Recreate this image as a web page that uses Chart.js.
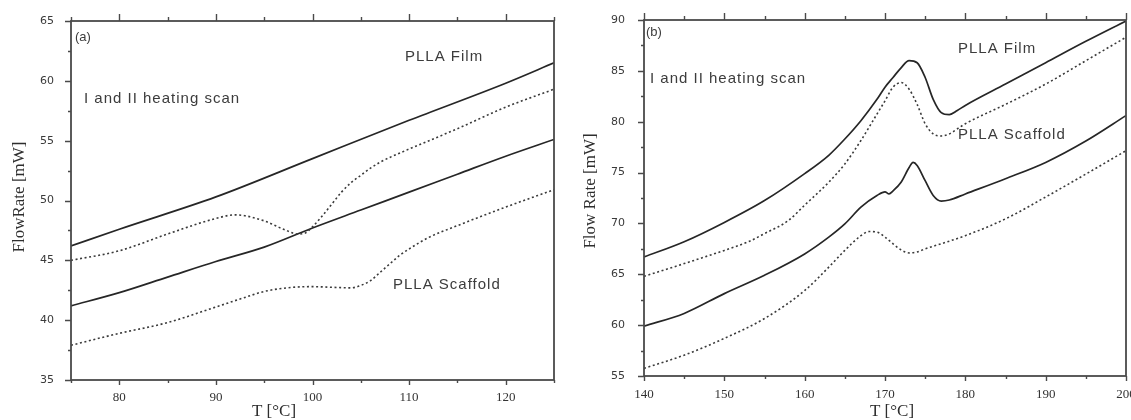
<!DOCTYPE html>
<html>
<head>
<meta charset="utf-8">
<script src="https://cdn.jsdelivr.net/npm/chart.js@4.4.1/dist/chart.umd.min.js"></script>
<style>
  html, body { margin: 0; padding: 0; background: #fff; }
  body { width: 1131px; height: 420px; position: relative; overflow: hidden; }
  canvas { position: absolute; top: 0; }
  #chartA { left: 0; }
  #chartB { left: 565px; }
</style>
</head>
<body>
<canvas id="chartA" width="565" height="420"></canvas>
<canvas id="chartB" width="566" height="420"></canvas>
<script>
// ---- panel (a): I and II heating scan, 75-125 °C ----
const filmSolidT_a = [75, 80, 90, 100, 110, 120, 125];
const filmSolid_a  = [46.2, 47.6, 50.3, 53.5, 56.7, 59.8, 61.5];

const filmDotT_a = [75, 80, 85, 90, 92, 95, 97, 98.5, 99.3, 100, 101, 102, 103, 104, 105, 106, 107, 108, 110, 115, 120, 125];
const filmDot_a  = [45.0, 45.8, 47.2, 48.5, 48.8, 48.3, 47.6, 47.2, 47.3, 47.8, 48.7, 49.7, 50.7, 51.5, 52.1, 52.7, 53.2, 53.6, 54.3, 56.0, 57.8, 59.3];

const scafSolidT_a = [75, 80, 85, 90, 95, 100, 105, 110, 115, 120, 125];
const scafSolid_a  = [41.2, 42.3, 43.6, 44.9, 46.1, 47.7, 49.2, 50.7, 52.2, 53.7, 55.1];

const scafDotT_a = [75, 80, 85, 90, 93, 95, 98, 100, 102, 104, 105, 106, 107, 108, 109, 110, 112, 115, 120, 125];
const scafDot_a  = [37.9, 38.9, 39.8, 41.1, 41.9, 42.4, 42.75, 42.8, 42.75, 42.7, 42.9, 43.3, 44.0, 44.7, 45.4, 45.95, 46.9, 47.9, 49.45, 50.9];

// ---- panel (b): 140-200 °C ----
const filmSolidT_b = [140, 145, 150, 155, 160, 163, 165, 167, 169, 170, 171, 172, 173, 174, 175, 176, 177, 178, 179, 180, 185, 190, 195, 200];
const filmSolid_b  = [66.7, 68.2, 70.1, 72.25, 74.9, 76.7, 78.3, 80.1, 82.2, 83.4, 84.35, 85.3, 86.0, 85.8, 84.35, 82.2, 80.9, 80.7, 81.1, 81.6, 83.7, 85.8, 87.9, 89.9];

const filmDotT_b = [140, 145, 150, 153, 155, 158, 160, 163, 165, 167, 169, 170, 171, 172, 173, 174, 175, 176, 177, 178, 179, 180, 185, 190, 195, 200];
const filmDot_b  = [64.8, 66.05, 67.35, 68.2, 69.0, 70.3, 71.8, 74.05, 75.85, 78.15, 80.75, 82.05, 83.4, 83.85, 83.2, 81.7, 79.8, 78.8, 78.6, 78.8, 79.3, 79.8, 81.7, 83.7, 86.0, 88.3];

const scafSolidT_b = [140, 145, 150, 155, 160, 163, 165, 167, 169, 170, 170.5, 171, 172, 173, 173.5, 174, 175, 176, 177, 178, 180, 185, 190, 195, 200];
const scafSolid_b  = [59.9, 61.15, 63.1, 64.9, 67.0, 68.65, 69.95, 71.6, 72.75, 73.1, 72.9, 73.2, 74.05, 75.5, 76.0, 75.7, 74.2, 72.75, 72.2, 72.3, 72.9, 74.4, 76.0, 78.1, 80.6];

const scafDotT_b = [140, 145, 150, 155, 160, 163, 165, 167, 168, 169, 170, 171, 172, 173, 174, 175, 177, 180, 185, 190, 195, 200];
const scafDot_b  = [55.75, 57.05, 58.7, 60.65, 63.4, 65.7, 67.35, 68.8, 69.2, 69.15, 68.65, 68.0, 67.4, 67.1, 67.2, 67.5, 68.0, 68.8, 70.45, 72.6, 74.85, 77.15];

const xTicks_a = [80, 90, 100, 110, 120];
const yTicks_a = [35, 40, 45, 50, 55, 60, 65];
const xTicks_b = [140, 150, 160, 170, 180, 190, 200];
const yTicks_b = [55, 60, 65, 70, 75, 80, 85, 90];

function pts(t, v) {
  return t.map((x, i) => ({ x: x, y: v[i] }));
}

function solid(t, v) {
  return { data: pts(t, v), borderColor: '#262626', borderWidth: 1.7, pointRadius: 0,
           cubicInterpolationMode: 'monotone', fill: false };
}

function dotted(t, v) {
  return { data: pts(t, v), borderColor: '#3a3a3a', borderWidth: 1.6, borderDash: [2, 2.6],
           pointRadius: 0, cubicInterpolationMode: 'monotone', fill: false };
}

// frame, minor ticks, mirrored top ticks, titles and notes
const decor = {
  id: 'decor',
  afterDraw(chart) {
    const o = chart.options.plugins.decor;
    const { ctx, chartArea: a } = chart;
    const sx = chart.scales.x, sy = chart.scales.y;
    ctx.save();
    ctx.strokeStyle = '#4a4a4a';
    ctx.lineWidth = 1.8;
    ctx.strokeRect(a.left, a.top, a.right - a.left, a.bottom - a.top);

    ctx.lineWidth = 1.4;
    ctx.beginPath();
    for (let v = sx.min; v <= sx.max + 1e-6; v += 5) {
      const px = Math.round(sx.getPixelForValue(v)) + 0.5;
      const major = v % 10 === 0;
      ctx.moveTo(px, a.bottom); ctx.lineTo(px, a.bottom + (major ? 5 : 3));
      ctx.moveTo(px, a.top); ctx.lineTo(px, a.top - (major ? 7 : 4));
    }
    for (let v = sy.min; v <= sy.max + 1e-6; v += 2.5) {
      const py = Math.round(sy.getPixelForValue(v)) + 0.5;
      const major = v % 5 === 0;
      ctx.moveTo(a.left, py); ctx.lineTo(a.left - (major ? 6 : 3), py);
    }
    ctx.stroke();

    ctx.fillStyle = '#2e2e2e';
    ctx.textAlign = 'center';
    ctx.textBaseline = 'middle';
    ctx.font = '17px "Liberation Serif"';
    ctx.fillText('T [°C]', o.xTitle[0], o.xTitle[1]);
    ctx.save();
    ctx.translate(o.yTitle[0], o.yTitle[1]);
    ctx.rotate(-Math.PI / 2);
    ctx.fillText(o.yText, 0, 0);
    ctx.restore();

    ctx.fillStyle = '#3c3c3c';
    ctx.textAlign = 'left';
    ctx.font = '13px "Liberation Sans"';
    ctx.fillText(o.tag[2], o.tag[0], o.tag[1]);
    ctx.font = '15px "Liberation Sans"';
    ctx.letterSpacing = '1px';
    o.notes.forEach(n => ctx.fillText(n[2], n[0], n[1]));
    ctx.restore();
  }
};

function makeChart(id, sets, xr, yr, xt, yt, pad, xH, yW, xPad, yPad, deco) {
  return new Chart(document.getElementById(id), {
    type: 'line',
    data: { datasets: sets },
    plugins: [decor],
    options: {
      responsive: false,
      animation: false,
      layout: { padding: pad },
      plugins: { legend: { display: false }, tooltip: { enabled: false }, decor: deco },
      scales: {
        x: {
          type: 'linear', min: xr[0], max: xr[1],
          afterBuildTicks: s => { s.ticks = xt.map(v => ({ value: v })); },
          ticks: { padding: xPad, maxRotation: 0, autoSkip: false, color: '#333',
                   font: { family: 'Liberation Serif', size: 13 } },
          grid: { display: false }, border: { display: false },
          afterFit: s => { s.height = xH; s.paddingLeft = 0; s.paddingRight = 0; }
        },
        y: {
          min: yr[0], max: yr[1],
          afterBuildTicks: s => { s.ticks = yt.map(v => ({ value: v })); },
          ticks: { padding: yPad, color: '#3a3a3a', font: { family: 'DejaVu Sans', size: 11 } },
          grid: { display: false }, border: { display: false },
          afterFit: s => { s.width = yW; s.paddingTop = 0; s.paddingBottom = 0; }
        }
      }
    }
  });
}

makeChart('chartA',
  [solid(filmSolidT_a, filmSolid_a), dotted(filmDotT_a, filmDot_a),
   solid(scafSolidT_a, scafSolid_a), dotted(scafDotT_a, scafDot_a)],
  [75, 125], [35, 65], xTicks_a, yTicks_a,
  { left: 0, right: 11, top: 21, bottom: 0 }, 40, 71, 2, 9,
  { xTitle: [274, 412], yTitle: [20, 197], yText: 'FlowRate [mW]', tag: [75, 37, '(a)'],
    notes: [[405, 57, 'PLLA Film'], [84, 99, 'I and II heating scan'], [393, 285, 'PLLA Scaffold']] });

makeChart('chartB',
  [solid(filmSolidT_b, filmSolid_b), dotted(filmDotT_b, filmDot_b),
   solid(scafSolidT_b, scafSolid_b), dotted(scafDotT_b, scafDot_b)],
  [140, 200], [55, 90], xTicks_b, yTicks_b,
  { left: 0, right: 5, top: 20, bottom: 0 }, 44, 79, 3, 11,
  { xTitle: [327, 412], yTitle: [26, 191], yText: 'Flow Rate [mW]', tag: [81, 32, '(b)'],
    notes: [[393, 49, 'PLLA Film'], [85, 79, 'I and II heating scan'], [393, 135, 'PLLA Scaffold']] });
</script>
</body>
</html>
